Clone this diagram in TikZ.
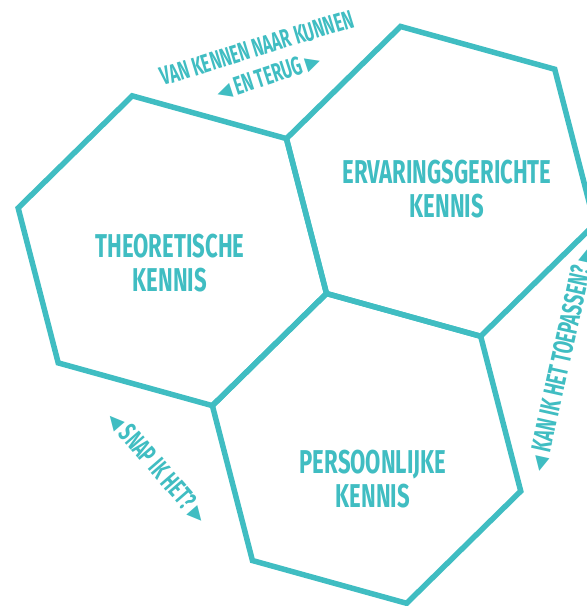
\documentclass[tikz,border=0pt]{standalone}
\usepackage{fontspec}
\setmainfont{Fira Sans}[FakeStretch=0.67]
\newfontfamily\sidefont{Fira Sans}[FakeStretch=0.62]
\newfontfamily\symfont{DejaVu Sans}
\usetikzlibrary{calc}
\definecolor{tealc}{RGB}{64,189,194}
\newcommand\tri[1]{{\symfont\fontsize{19}{19}\selectfont\raisebox{1.5pt}{#1}}}
\begin{document}
\begin{tikzpicture}[x=1pt,y=-1pt,
  hexline/.style={draw=tealc, line width=5.5pt, line join=miter},
  mainlabel/.style={text=tealc, font=\fontsize{33}{34}\selectfont\bfseries, align=center, inner sep=0pt},
  sidelabel/.style={text=tealc, font=\sidefont\fontsize{26}{26}\selectfont\bfseries, inner sep=0pt},
  pics/hexa/.style={code={\draw[hexline] (15.5:160) -- (75.5:160) -- (135.5:160) -- (195.5:160) -- (255.5:160) -- (315.5:160) -- cycle;}}]
\useasboundingbox (0,0) rectangle (587,606);
\coordinate (J) at (326.5,293.5);
\coordinate (L) at ($(J)+(195.5:160)$);
\coordinate (R) at ($(J)+(315.5:160)$);
\coordinate (B) at ($(J)+(75.5:160)$);
\pic at (L) {hexa};
\pic at (R) {hexa};
\pic at (B) {hexa};
\node[mainlabel] (theo) at (170,263) {THEORETISCHE\\KENNIS};
\node[mainlabel] (erv) at (447,189) {ERVARINGSGERICHTE\\KENNIS};
\node[mainlabel] (pers) at (373,479) {PERSOONLIJKE\\KENNIS};
\node[sidelabel, rotate=17] (vk1) at (257,48) {VAN KENNEN NAAR KUNNEN};
\node[sidelabel, rotate=18] (vk2) at (268,76) {\tri{◀} EN TERUG \tri{▶}};
\node[sidelabel, rotate=-49, font=\sidefont\fontsize{27}{27}\selectfont\bfseries] (snap) at (158,467) {\tri{◀}\,SNAP IK HET?\,\tri{▶}};
\node[sidelabel, rotate=77.5, font=\sidefont\fontsize{28}{28}\selectfont\bfseries] (kan) at (561,359) {\tri{◀}\,KAN IK HET TOEPASSEN?\,\tri{▶}};
\end{tikzpicture}
\end{document}
